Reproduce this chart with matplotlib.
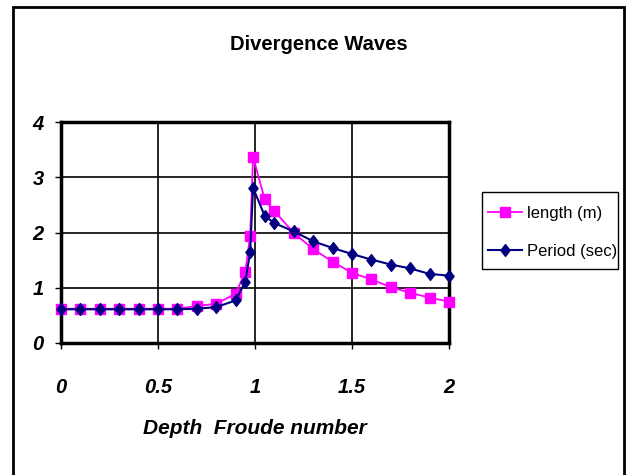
import matplotlib
matplotlib.use("Agg")
import matplotlib.pyplot as plt
from matplotlib.patches import Rectangle
from matplotlib.path import Path

plt.rcParams['font.family'] = ['Liberation Sans', 'DejaVu Sans']

# Depth Froude number
froude = [0.0, 0.1, 0.2, 0.3, 0.4, 0.5, 0.6, 0.7, 0.8, 0.9, 0.95, 0.975, 0.99,
          1.05, 1.1, 1.2, 1.3, 1.4, 1.5, 1.6, 1.7, 1.8, 1.9, 2.0]
# Wave length (m)
length_m = [0.62, 0.62, 0.62, 0.62, 0.62, 0.62, 0.62, 0.67, 0.71, 0.89, 1.29, 1.94, 3.37,
            2.60, 2.39, 1.99, 1.70, 1.47, 1.27, 1.15, 1.01, 0.91, 0.82, 0.75]
# Wave period (sec)
period_s = [0.61, 0.61, 0.61, 0.61, 0.61, 0.61, 0.61, 0.62, 0.65, 0.77, 1.11, 1.64, 2.81,
            2.30, 2.17, 2.02, 1.84, 1.72, 1.61, 1.51, 1.42, 1.35, 1.25, 1.22]

x_ticks = [0, 0.5, 1, 1.5, 2]
x_tick_labels = ['0', '0.5', '1', '1.5', '2']
y_ticks = [0, 1, 2, 3, 4]
y_tick_labels = ['0', '1', '2', '3', '4']

W, H = 626, 475
fig = plt.figure(figsize=(W / 100, H / 100), dpi=100)

# outer chart border
fig.patches.append(Rectangle((13 / W, -0.02), (624 - 13) / W, 1.02 - 7 / H,
                             transform=fig.transFigure, fill=False,
                             edgecolor='black', linewidth=2, zorder=0))

ax = fig.add_axes([61 / W, 1 - 343 / H, (449 - 61) / W, (343 - 122) / H])

# slightly slender diamond marker
diamond = Path([(0, 1), (0.78, 0), (0, -1), (-0.78, 0), (0, 1)],
               [Path.MOVETO, Path.LINETO, Path.LINETO, Path.LINETO, Path.CLOSEPOLY])

l1, = ax.plot(froude, length_m, color='#FF00FF', linewidth=1.3, marker='s',
              markersize=6.5, markeredgecolor='#FF00FF', label='length (m)',
              zorder=3, clip_on=False)
l2, = ax.plot(froude, period_s, color='#000080', linewidth=1.5, marker=diamond,
              markersize=8.5, markeredgecolor='#000080', label='Period (sec)',
              zorder=4, clip_on=False)

ax.set_xlim(0, 2)
ax.set_ylim(0, 4)
ax.set_xticks(x_ticks)
ax.set_xticklabels(x_tick_labels)
ax.set_yticks(y_ticks)
ax.set_yticklabels(y_tick_labels)
ax.grid(True, color='black', linewidth=1.2)
ax.set_axisbelow(True)
for s in ax.spines.values():
    s.set_linewidth(2.5)
    s.set_color('black')

ax.tick_params(axis='both', direction='out', length=4.5, width=1, color='black')
ax.tick_params(axis='x', pad=21)
ax.tick_params(axis='y', pad=8)
for lab in ax.get_xticklabels() + ax.get_yticklabels():
    lab.set_fontsize(14.5)
    lab.set_fontweight('bold')
    lab.set_fontstyle('italic')

ax.set_xlabel('Depth  Froude number', fontsize=15, fontweight='bold',
              fontstyle='italic', labelpad=15.5)

fig.text(318.5 / W, 1 - 45 / H, 'Divergence Waves', fontsize=14.5, fontweight='bold',
         ha='center', va='center')

# legend entries, with a separately drawn frame box
leg = fig.legend(handles=[l1, l2], loc='upper left',
                 bbox_to_anchor=(488 / W, 1 - 206 / H), fontsize=12,
                 frameon=False, handlelength=2.05, handletextpad=0.3,
                 borderpad=0, labelspacing=1.38, borderaxespad=0)
fig.patches.append(Rectangle((482 / W, 1 - 269 / H), (618 - 482) / W, (269 - 192) / H,
                             transform=fig.transFigure, fill=False,
                             edgecolor='black', linewidth=1, zorder=1))

fig.savefig('out.png', dpi=100, facecolor='white')
